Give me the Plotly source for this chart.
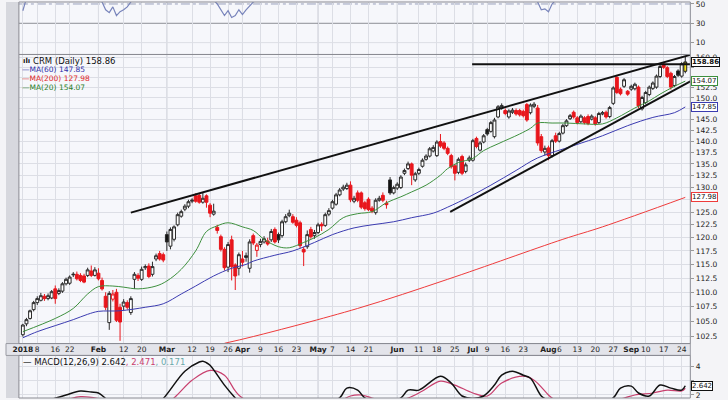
import math
import pandas as pd
import plotly.graph_objects as go

# ---------------- data ----------------
HOLIDAYS = {"2018-01-01", "2018-01-15", "2018-02-19", "2018-03-30",
            "2018-05-28", "2018-07-04", "2018-09-03"}
DATES = [d.strftime("%Y-%m-%d") for d in pd.bdate_range("2018-01-02", "2018-09-25")
         if d.strftime("%Y-%m-%d") not in HOLIDAYS]
DAY = {d: i for i, d in enumerate(DATES)}

OPEN = [
    102.8, 104.6, 105.5, 107.0, 108.2, 108.6, 109.3, 108.9, 109.0, 110.6,
    109.8, 110.2, 111.5, 111.6, 113.1, 113.2, 113.0, 112.9, 113.0, 113.8,
    113.0, 113.4, 112.1, 109.3, 104.8, 108.8, 110.0, 107.4, 107.6, 108.2,
    106.5, 112.3, 113.0, 112.3, 114.4, 114.7, 113.2, 116.0, 117.0, 116.8,
    120.6, 118.4, 119.7, 122.5, 124.2, 125.6, 126.2, 127.2, 128.3, 128.4,
    127.0, 128.3, 126.4, 124.6, 122.0, 120.2, 117.8, 114.5, 119.6, 114.9,
    114.3, 116.0, 116.6, 114.3, 120.4, 117.6, 118.7, 119.2, 119.4, 119.6,
    121.6, 120.6, 120.4, 123.1, 124.3, 124.1, 123.4, 122.9, 117.8, 118.3,
    121.6, 120.4, 121.0, 122.6, 122.4, 124.6, 125.8, 126.6, 128.5, 129.7,
    129.8, 130.5, 127.2, 128.9, 128.9, 126.9, 127.6, 125.8, 124.9, 127.4,
    128.4, 126.8, 131.6, 128.9, 129.9, 130.0, 133.0, 134.0, 135.0, 131.6,
    133.0, 134.5, 136.0, 136.7, 137.8, 136.8, 139.9, 139.6, 138.4, 136.8,
    134.6, 133.2, 136.6, 133.4, 135.8, 135.8, 140.6, 138.0, 139.8, 142.6,
    142.2, 141.0, 145.5, 147.5, 147.0, 145.5, 146.6, 147.0, 147.0, 146.8,
    148.4, 146.5, 148.0, 147.6, 141.0, 137.6, 138.5, 136.8, 141.2, 140.0,
    141.8, 143.5, 145.1, 146.6, 145.3, 144.4, 145.3, 145.6, 145.0, 145.3,
    144.2, 146.2, 146.6, 145.6, 148.7, 155.0, 152.1, 152.8, 151.6, 152.1,
    152.2, 152.6, 147.4, 148.9, 150.8, 152.3, 152.6, 155.2, 158.3, 157.4,
    156.0, 153.0, 156.6, 155.3, 156.5]
HIGH = [
    104.6, 105.6, 107.0, 108.5, 109.3, 109.9, 109.7, 109.8, 110.4, 111.2,
    110.7, 111.8, 112.6, 113.0, 113.6, 113.7, 113.4, 113.3, 114.4, 114.8,
    114.5, 114.3, 112.6, 110.0, 110.2, 110.4, 110.6, 108.0, 108.8, 108.6,
    109.3, 113.6, 113.4, 114.6, 115.0, 115.2, 115.5, 117.0, 117.5, 117.2,
    121.2, 122.0, 122.4, 124.9, 125.5, 126.6, 127.5, 127.8, 128.8, 128.9,
    129.0, 128.6, 126.8, 126.7, 122.5, 120.6, 118.2, 119.2, 120.4, 115.2,
    117.2, 117.5, 117.2, 119.7, 120.8, 119.0, 119.8, 120.3, 120.0, 121.7,
    122.0, 121.0, 123.5, 124.6, 125.5, 124.6, 124.0, 123.3, 118.3, 121.4,
    122.1, 121.5, 122.9, 123.0, 124.9, 125.8, 127.5, 128.9, 129.9, 130.6,
    131.0, 131.3, 128.3, 129.4, 129.2, 127.3, 128.0, 126.2, 127.8, 128.3,
    129.0, 127.3, 132.2, 130.4, 131.1, 132.6, 134.0, 135.5, 135.3, 133.3,
    134.2, 136.2, 137.1, 138.7, 139.1, 140.2, 141.6, 140.0, 138.8, 137.2,
    135.0, 136.4, 137.0, 135.3, 136.8, 140.5, 141.0, 140.0, 141.6, 143.0,
    144.6, 145.3, 148.3, 148.7, 147.5, 147.3, 147.6, 147.5, 147.4, 147.2,
    148.8, 148.7, 149.0, 148.3, 141.6, 139.0, 139.0, 140.5, 141.9, 142.1,
    143.9, 145.0, 146.2, 147.0, 145.7, 146.1, 145.7, 146.1, 146.1, 145.7,
    146.7, 146.9, 147.0, 148.1, 152.8, 155.6, 152.5, 154.8, 151.9, 153.2,
    153.7, 153.0, 150.5, 151.7, 153.0, 154.0, 155.7, 158.1, 158.8, 157.8,
    156.4, 155.6, 157.0, 158.8, 160.2]
LOW = [
    102.5, 104.2, 105.3, 106.7, 107.8, 108.4, 108.5, 108.6, 108.8, 108.0,
    109.5, 109.9, 111.2, 111.3, 112.7, 112.1, 111.8, 111.6, 112.7, 112.7,
    112.8, 112.1, 110.3, 106.9, 103.6, 108.4, 104.9, 101.8, 106.9, 107.0,
    106.1, 110.6, 112.0, 112.0, 114.0, 112.5, 112.8, 115.6, 115.7, 115.4,
    117.5, 117.8, 119.3, 122.2, 123.9, 125.2, 125.8, 126.8, 126.9, 126.7,
    126.7, 125.9, 124.0, 124.3, 120.8, 117.4, 113.9, 113.6, 112.1, 110.4,
    113.0, 114.6, 115.5, 113.5, 118.6, 116.4, 118.2, 118.9, 118.5, 119.2,
    118.9, 119.0, 120.0, 122.8, 124.0, 122.7, 122.0, 118.0, 114.7, 117.9,
    119.8, 119.8, 120.7, 121.3, 122.1, 124.2, 125.5, 126.3, 128.2, 129.3,
    129.5, 127.0, 126.8, 127.0, 125.6, 125.3, 125.2, 124.8, 124.5, 127.1,
    127.0, 125.7, 128.5, 128.6, 129.5, 129.7, 132.6, 133.7, 130.5, 131.2,
    132.6, 134.2, 135.7, 136.4, 137.5, 136.5, 138.5, 138.0, 136.9, 134.0,
    131.5, 132.8, 132.6, 133.0, 135.4, 135.5, 138.4, 137.7, 139.5, 141.2,
    141.9, 140.6, 145.2, 147.2, 145.9, 145.1, 146.2, 145.8, 145.6, 145.4,
    144.4, 146.1, 147.6, 139.0, 137.4, 136.8, 135.8, 136.4, 139.6, 139.7,
    141.5, 143.2, 144.8, 145.1, 143.8, 144.1, 143.8, 143.6, 144.7, 143.5,
    143.9, 145.9, 145.1, 145.2, 148.3, 150.9, 150.6, 152.4, 150.5, 151.7,
    151.8, 147.6, 147.0, 148.5, 150.4, 151.9, 152.2, 154.8, 157.1, 154.8,
    152.0, 152.6, 155.1, 154.9, 156.0]
CLOSE = [
    104.4, 105.3, 106.8, 108.2, 108.9, 109.4, 108.9, 109.4, 110.1, 108.9,
    110.3, 111.5, 112.3, 112.7, 113.2, 112.4, 112.1, 111.8, 114.0, 113.0,
    114.0, 112.4, 110.6, 107.4, 109.8, 109.7, 105.2, 104.9, 108.3, 107.4,
    108.9, 113.2, 112.5, 114.1, 114.6, 112.8, 114.6, 116.6, 116.0, 115.8,
    119.2, 121.6, 122.1, 124.5, 125.1, 126.2, 127.1, 127.4, 127.2, 127.0,
    127.8, 127.0, 124.8, 125.2, 121.4, 117.8, 114.4, 118.7, 114.6, 112.9,
    116.8, 115.4, 116.3, 119.2, 119.0, 118.6, 119.3, 119.8, 118.8, 121.2,
    119.2, 119.6, 123.1, 124.1, 124.8, 123.0, 122.4, 118.5, 117.3, 120.6,
    120.2, 121.0, 122.5, 122.3, 124.5, 125.3, 127.1, 128.5, 129.5, 130.1,
    130.5, 127.5, 127.8, 127.4, 126.0, 125.7, 125.5, 125.2, 127.4, 127.8,
    127.4, 126.5, 128.9, 130.0, 130.7, 132.2, 133.6, 135.0, 132.6, 132.9,
    133.8, 135.8, 136.7, 138.3, 138.6, 139.8, 138.9, 138.4, 137.3, 134.4,
    133.0, 136.0, 133.0, 134.8, 136.3, 140.1, 138.8, 139.6, 141.2, 141.6,
    144.2, 144.8, 147.9, 148.2, 146.3, 146.9, 147.1, 146.2, 146.0, 145.8,
    144.8, 148.3, 148.5, 139.6, 137.9, 138.4, 136.8, 140.1, 140.0, 141.7,
    143.5, 144.6, 145.8, 145.5, 144.2, 145.7, 144.2, 144.0, 145.7, 143.9,
    146.3, 146.5, 145.5, 147.7, 152.4, 151.3, 151.0, 154.4, 150.9, 152.8,
    153.3, 148.1, 150.1, 151.3, 152.6, 153.6, 155.3, 157.7, 157.5, 155.2,
    152.6, 155.2, 155.5, 158.4, 158.86]

# moving averages: (trading-day number, value)
MA20_DAY = [0, 9, 14, 18, 21, 25, 28, 32, 37, 40, 44, 48, 51, 54, 57, 61, 64, 67, 71, 74, 78, 81, 85,
            89, 93, 97, 101, 105, 108, 112, 116, 118, 121, 125, 128, 132, 138, 141, 143, 147, 151,
            156, 161, 165, 170, 174, 177, 181, 184]
MA20_VAL = [103.3, 105.5, 107.2, 109.7, 111.0, 111.1, 110.9, 110.6, 111.1, 112.0, 114.1, 117.5, 121.2,
            122.3, 122.9, 122.1, 121.4, 119.7, 118.3, 118.1, 119.1, 120.0, 121.6, 123.9, 124.7, 125.1,
            126.9, 128.1, 129.1, 130.5, 132.6, 134.0, 135.3, 136.2, 137.9, 139.4, 141.6, 142.9, 144.1,
            144.1, 144.1, 143.9, 143.9, 145.3, 147.6, 149.3, 150.9, 152.8, 154.07]
MA60_DAY = [0, 4, 9, 14, 18, 21, 27, 34, 39, 44, 48, 53, 58, 62, 64, 70, 75, 81, 86, 92, 97, 103, 108,
            114, 118, 124, 130, 137, 143, 153, 161, 168, 175, 181, 184]
MA60_VAL = [102.3, 103.3, 104.3, 105.3, 106.2, 106.7, 106.8, 107.4, 108.0, 109.7, 111.1, 112.9, 114.3,
            115.0, 115.6, 116.7, 117.5, 119.1, 120.6, 121.9, 122.5, 123.1, 123.9, 124.8, 126.0, 128.1,
            130.5, 133.6, 136.3, 139.0, 141.2, 143.5, 145.4, 146.5, 147.85]
MA200_DAY = [56, 64, 93, 118, 150, 161, 184]
MA200_VAL = [101.4, 102.5, 107.2, 112.3, 119.7, 122.1, 127.98]

RSI_DAY = [0, 1, 4, 10, 16, 20, 22, 23, 24, 25, 26, 27, 28, 29, 30, 31, 40, 48, 52, 54, 56, 57, 58,
           59, 60, 61, 62, 63, 64, 66, 75, 90, 110, 120, 130, 142, 143, 144, 145, 146, 147, 148, 150,
           165, 184]
RSI_VAL = [43, 56, 72, 74, 70, 62, 52, 44, 41, 47, 38, 42, 44, 47, 52, 60, 72, 70, 58, 50, 38, 43, 36,
           38, 44, 39, 44, 48, 52, 56, 62, 66, 66, 58, 70, 66, 52, 44, 45, 42, 50, 54, 60, 66, 68]

MACD_DAY = [0, 8, 12, 16, 19, 21, 23, 27, 34, 39, 45, 49, 50, 51, 52, 56, 59, 62, 70, 80, 88, 90, 93,
            95, 100, 105, 107, 110, 116, 119, 122, 125, 128, 131, 133, 136, 139, 141, 144, 146, 150,
            158, 164, 166, 169, 171, 174, 177, 180, 183, 184]
MACD_VAL = [1.2, 1.7, 2.0, 2.28, 2.2, 2.14, 1.75, 0.8, 0.6, 1.75, 3.66, 4.3, 4.36, 4.25, 4.07, 2.69,
            1.79, 1.0, 0.3, 0.9, 1.8, 2.48, 2.34, 1.8, 1.4, 1.8, 2.34, 2.34, 3.31, 2.83, 1.93, 1.75,
            1.93, 2.69, 3.38, 3.66, 3.38, 3.17, 1.93, 1.6, 0.9, 1.2, 1.8, 2.48, 2.62, 2.14, 1.93, 2.69,
            2.48, 2.34, 2.642]
SIG_DAY = [0, 10, 16, 22, 30, 38, 42, 47, 52, 56, 59, 61, 70, 85, 91, 94, 97, 102, 107, 111, 116, 120,
           125, 129, 133, 139, 142, 146, 147, 155, 167, 170, 175, 179, 183, 184]
SIG_VAL = [0.8, 1.5, 1.88, 1.7, 1.2, 1.1, 1.8, 3.03, 3.72, 3.38, 2.28, 1.79, 0.9, 1.2, 1.93, 2.0, 1.79,
           1.5, 1.79, 2.28, 2.97, 2.69, 2.14, 1.93, 2.83, 3.31, 3.03, 2.0, 1.79, 1.0, 1.79, 2.0, 2.14,
           2.34, 2.28, 2.471]
MACD_HIST_LAST = 0.171

# hand-drawn trendlines on the chart: (day, price) endpoints
TREND_UPPER = [(30.0, 124.9), (185.4, 160.66)]
TREND_LOWER = [(118.7, 125.05), (185.4, 154.0)]
RESIST = [(124.8, 158.3), (185.4, 158.3)]

PRICE_TICKS = [102.5 + 2.5 * k for k in range(24)]
HIDDEN_TICKS = {127.5, 147.5, 155.0, 157.5}   # covered by the price markers in the original
TICK_DATES = ["2018-01-02", "2018-01-08", "2018-01-16", "2018-01-22", "2018-02-01", "2018-02-12",
              "2018-02-20", "2018-03-01", "2018-03-12", "2018-03-19", "2018-03-26", "2018-04-02",
              "2018-04-09", "2018-04-16", "2018-04-23", "2018-05-01", "2018-05-07", "2018-05-14",
              "2018-05-21", "2018-06-01", "2018-06-11", "2018-06-18", "2018-06-25", "2018-07-02",
              "2018-07-09", "2018-07-16", "2018-07-23", "2018-08-01", "2018-08-06", "2018-08-13",
              "2018-08-20", "2018-08-27", "2018-09-04", "2018-09-10", "2018-09-17", "2018-09-24"]
TICK_TEXT = ["2018", "8", "16", "22", "Feb", "12", "20", "Mar", "12", "19", "26", "Apr", "9", "16",
             "23", "May", "7", "14", "21", "Jun", "11", "18", "25", "Jul", "9", "16", "23", "Aug",
             "6", "13", "20", "27", "Sep", "10", "17", "24"]
MONTH_LABELS = {"2018", "Feb", "Mar", "Apr", "May", "Jun", "Jul", "Aug", "Sep"}

# ---------------- layout geometry ----------------
W, H = 728, 400
def px_x(p): return p / W
def px_y(p): return 1 - p / H

XL, XR = px_x(13), px_x(690)
MAIN_DOM = [px_y(345), px_y(53)]
RSI_DOM = [px_y(53), 1.0]
MACD_DOM = [0.0, px_y(357)]
XRANGE = [-1.1, 185.4]
FONT = "DejaVu Sans"

N = len(CLOSE)
X = list(range(N))
tickvals = [DAY[d] for d in TICK_DATES]
ticktext = [f"<b>{t}</b>" if t in MONTH_LABELS else t for t in TICK_TEXT]

fig = go.Figure()

# moving averages
fig.add_trace(go.Scatter(x=MA200_DAY, y=MA200_VAL, mode="lines", line=dict(color="#ee3b3b", width=1),
                         line_shape="spline", hoverinfo="skip", showlegend=False))
fig.add_trace(go.Scatter(x=MA60_DAY, y=MA60_VAL, mode="lines", line=dict(color="#3b3bb0", width=1),
                         line_shape="spline", hoverinfo="skip", showlegend=False))
fig.add_trace(go.Scatter(x=MA20_DAY, y=MA20_VAL, mode="lines", line=dict(color="#3d8f3d", width=1),
                         line_shape="spline", hoverinfo="skip", showlegend=False))

# candles: red when close below previous close, black otherwise; filled when close < open
red_idx = [i for i in range(1, N - 1) if CLOSE[i] < CLOSE[i - 1]]
blk_idx = [i for i in range(N - 1) if i not in red_idx]
last_idx = [N - 1]

def candles(idx, edge, up_fill, dn_fill):
    return go.Candlestick(
        x=[X[i] for i in idx], open=[OPEN[i] for i in idx], high=[HIGH[i] for i in idx],
        low=[LOW[i] for i in idx], close=[CLOSE[i] for i in idx],
        increasing=dict(line=dict(color=edge, width=1), fillcolor=up_fill),
        decreasing=dict(line=dict(color=edge, width=1), fillcolor=dn_fill),
        whiskerwidth=0, hoverinfo="skip", showlegend=False)

fig.add_trace(candles(blk_idx, "#2a2a2a", "#ffffff", "#111111"))
fig.add_trace(candles(red_idx, "#e8161c", "#ffffff", "#e8161c"))
fig.add_trace(candles(last_idx, "#222222", "#f5e31a", "#f5e31a"))

# trendlines
for seg in (TREND_UPPER, TREND_LOWER, RESIST):
    fig.add_trace(go.Scatter(x=[p[0] for p in seg], y=[p[1] for p in seg], mode="lines",
                             line=dict(color="#111111", width=2), hoverinfo="skip",
                             showlegend=False))

# RSI panel (only lower part visible)
fig.add_trace(go.Scatter(x=RSI_DAY, y=RSI_VAL, mode="lines", line=dict(color="#7884bb", width=1.2),
                         xaxis="x2", yaxis="y2", hoverinfo="skip", showlegend=False))

# MACD panel (only upper part visible)
fig.add_trace(go.Scatter(x=SIG_DAY, y=SIG_VAL, mode="lines", line=dict(color="#c8406e", width=1.2),
                         line_shape="spline", xaxis="x3", yaxis="y3", hoverinfo="skip",
                         showlegend=False))
fig.add_trace(go.Scatter(x=MACD_DAY, y=MACD_VAL, mode="lines", line=dict(color="#111111", width=1.5),
                         line_shape="spline", xaxis="x3", yaxis="y3", hoverinfo="skip",
                         showlegend=False))

GRID = "#dcdee5"
xcommon = dict(range=XRANGE, tickvals=tickvals, showgrid=True, gridcolor=GRID, gridwidth=1,
               zeroline=False, showline=False, domain=[XL, XR], fixedrange=True)
yfont = dict(size=7.5, color="#222222", family=FONT)

fig.update_layout(
    width=W, height=H, margin=dict(l=0, r=0, t=0, b=0),
    paper_bgcolor="#f4f4f7", plot_bgcolor="#f6f7fb",
    boxgap=0.0, boxgroupgap=0.2,
    font=dict(family=FONT, color="#222222"),
    xaxis=dict(**xcommon, anchor="y", ticktext=ticktext, showticklabels=True, ticks="",
               tickangle=0, ticklabeloverflow="allow",
               tickfont=dict(size=7.5, color="#222222", family=FONT),
               rangeslider=dict(visible=False)),
    xaxis2=dict(**xcommon, anchor="y2", matches="x", showticklabels=False),
    xaxis3=dict(**xcommon, anchor="y3", matches="x", showticklabels=False),
    yaxis=dict(type="log", domain=MAIN_DOM, range=[math.log10(101.36), math.log10(160.76)],
               side="right", anchor="x", tickvals=PRICE_TICKS,
               ticktext=["" if v in HIDDEN_TICKS else f"{v:.1f}" for v in PRICE_TICKS],
               showgrid=True, gridcolor=GRID, zeroline=False, ticks="outside", ticklen=3,
               tickcolor="#999999", tickfont=yfont, ticklabeloverflow="allow", fixedrange=True),
    yaxis2=dict(domain=RSI_DOM, range=[-2.3, 52.05], side="right", anchor="x2",
                tickvals=[10, 30, 50], ticktext=["10", "30", "50"], showgrid=False,
                zeroline=False, ticks="outside", ticklen=3, tickcolor="#999999",
                tickfont=yfont, ticklabeloverflow="allow", fixedrange=True),
    yaxis3=dict(domain=MACD_DOM, range=[1.79, 4.76], side="right", anchor="x3",
                tickvals=[2, 3, 4], ticktext=["2", "", "4"], showgrid=True, gridcolor=GRID,
                zeroline=False, ticks="outside", ticklen=3, tickcolor="#999999",
                tickfont=yfont, ticklabeloverflow="allow", fixedrange=True),
)

shapes = []
# left grey strip and date strip
shapes.append(dict(type="rect", xref="paper", yref="paper", x0=0, x1=XL, y0=0, y1=1,
                   fillcolor="#d7d8de", line=dict(width=0), layer="below"))
shapes.append(dict(type="rect", xref="paper", yref="paper", x0=0, x1=XR, y0=px_y(357), y1=px_y(345),
                   fillcolor="#e3e4ea", line=dict(color="#9a9ba3", width=1), layer="below"))
# month separators
for t, v in zip(TICK_TEXT, tickvals):
    if t in MONTH_LABELS and t != "2018":
        for yr in ("y domain", "y2 domain", "y3 domain"):
            shapes.append(dict(type="line", xref="x", yref=yr, x0=v, x1=v, y0=0, y1=1,
                               line=dict(color="#c3c6cf", width=1), layer="below"))
# RSI reference lines
shapes.append(dict(type="line", xref="x domain", yref="y2", x0=0, x1=1, y0=50, y1=50,
                   line=dict(color="#9aa0bb", width=1, dash="dashdot"), layer="below"))
shapes.append(dict(type="line", xref="x domain", yref="y2", x0=0, x1=1, y0=30, y1=30,
                   line=dict(color="#8d8e96", width=1), layer="below"))
shapes.append(dict(type="line", xref="x domain", yref="y2", x0=0, x1=1, y0=10, y1=10,
                   line=dict(color=GRID, width=1), layer="below"))
# panel frames
for dom in (MAIN_DOM, RSI_DOM, MACD_DOM):
    shapes.append(dict(type="rect", xref="paper", yref="paper", x0=XL, x1=XR, y0=dom[0], y1=dom[1],
                       line=dict(color="#8a8b93", width=1), fillcolor="rgba(0,0,0,0)"))
fig.update_layout(shapes=shapes)

ann = []
def note(text, xp, yp, size=9, color="#111111"):
    ann.append(dict(text=text, x=px_x(xp), y=px_y(yp), xref="paper", yref="paper",
                    xanchor="left", yanchor="middle", showarrow=False,
                    font=dict(size=size, color=color, family=FONT)))

note(f"CRM (Daily) {CLOSE[-1]:.2f}", 25, 59.5, 8.5, "#111111")
note(f"—MA(60) {MA60_VAL[-1]:.2f}", 14, 68.5, 7.5, "#2f2fa8")
note(f"—MA(200) {MA200_VAL[-1]:.2f}", 14, 77.5, 7.5, "#e02a2a")
note(f"—MA(20) {MA20_VAL[-1]:.2f}", 14, 86.5, 7.5, "#2a7f2a")
note("<b>ılı</b>", 15, 59.5, 7, "#111111")
note(f"— MACD(12,26,9) {MACD_VAL[-1]:.3f}<span style='color:#c8406e'>, {SIG_VAL[-1]:.3f}</span>"
     f"<span style='color:#6aa9a9'>, {MACD_HIST_LAST:.3f}</span>", 15, 364, 8.5, "#111111")

def marker(val, yref, edge, bold=False):
    yv = math.log10(val) if yref == "y" else val
    txt = f"{val:.2f}" if yref == "y" else f"{val:.3f}"
    ann.append(dict(text=f"<b>{txt}</b>" if bold else txt, x=px_x(691), y=yv, xref="paper",
                    yref=yref, xanchor="left", yanchor="middle", showarrow=False,
                    bgcolor="#ffffff", bordercolor=edge, borderwidth=1, borderpad=0,
                    font=dict(size=7, color="#111111", family=FONT)))

marker(CLOSE[-1], "y", "#111111", bold=True)
marker(MA20_VAL[-1], "y", "#3d8f3d")
marker(MA60_VAL[-1], "y", "#3b3bb0")
marker(MA200_VAL[-1], "y", "#ee3b3b")
marker(MACD_VAL[-1], "y3", "#111111")
fig.update_layout(annotations=ann)

fig.write_html("out.html")
